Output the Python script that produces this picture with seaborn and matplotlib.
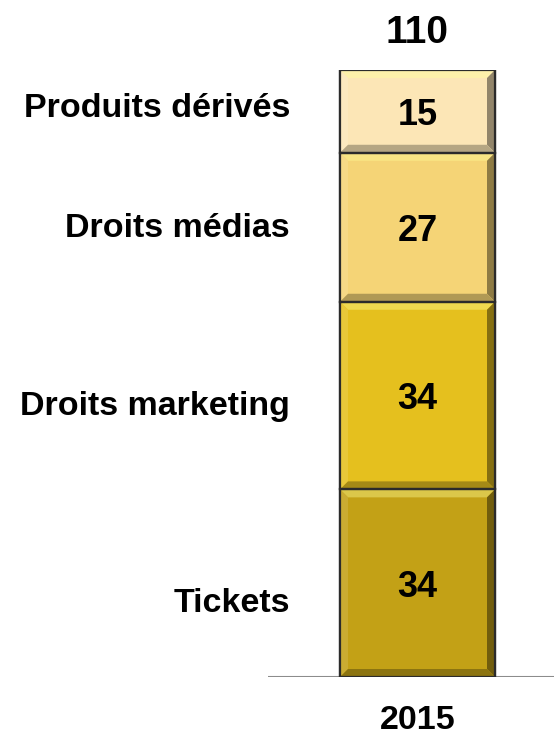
import matplotlib
matplotlib.use("Agg")
import matplotlib.pyplot as plt
import matplotlib.colors as mcolors
from matplotlib.patches import Polygon
from matplotlib.transforms import offset_copy
import seaborn as sns
import numpy as np

sns.set_theme(style="white")
plt.rcParams['font.family'] = ['Liberation Sans', 'DejaVu Sans']

year = ["2015"]
categories = ["Tickets", "Droits marketing", "Droits médias", "Produits dérivés"]
values = [34, 34, 27, 15]
total = 110
colors = ["#C3A116", "#E5C01E", "#F5D476", "#FCE6B6"]

# label vertical nudges in pixels (positive = down), style only
label_nudge = [17, 7, -2, -6]

W, H = 554, 736
fig = plt.figure(figsize=(W / 100, H / 100), dpi=100)
ax = fig.add_axes([268 / W, 59 / H, 286 / W, 607 / H])

bar_w = 0.8
bottom = 0
for cat, val, col in zip(categories, values, colors):
    sns.barplot(x=year, y=[val], bottom=bottom, color=col, width=bar_w,
                edgecolor="#2b2b2b", linewidth=1.6, saturation=1, ax=ax, zorder=2)
    bottom += val

ax.set_ylim(0, total)
px_per_x = 155 / bar_w
ax.set_xlim(-149.5 / px_per_x, (286 - 149.5) / px_per_x)
for s in ax.spines.values():
    s.set_visible(False)
ax.set_xticks([])
ax.set_yticks([])
ax.set_xlabel("")
ax.set_ylabel("")
ax.axhline(0, color="#8c8c8c", lw=1.5, zorder=1)

# bevel
bx = 8 / px_per_x
by = 8 / (607 / total)

def blend(c, t, amt):
    c = np.array(mcolors.to_rgb(c)); t = np.array(mcolors.to_rgb(t))
    return tuple(c * (1 - amt) + t * amt)

bottom = 0
for cat, val, col, nud in zip(categories, values, colors, label_nudge):
    x0, x1 = -bar_w / 2, bar_w / 2
    y0, y1 = bottom, bottom + val
    polys = [
        ([(x0, y1), (x1, y1), (x1 - bx, y1 - by), (x0 + bx, y1 - by)], blend(col, "#ffff99", 0.4)),
        ([(x0, y0), (x0, y1), (x0 + bx, y1 - by), (x0 + bx, y0 + by)], blend(col, "white", 0.12)),
        ([(x1, y0), (x1, y1), (x1 - bx, y1 - by), (x1 - bx, y0 + by)], blend(col, "black", 0.42)),
        ([(x0, y0), (x1, y0), (x1 - bx, y0 + by), (x0 + bx, y0 + by)], blend(col, "black", 0.28)),
    ]
    for pts, c in polys:
        ax.add_patch(Polygon(pts, closed=True, facecolor=c, edgecolor="none", zorder=3))
    ax.add_patch(Polygon([(x0, y0), (x1, y0), (x1, y1), (x0, y1)], closed=True,
                         facecolor="none", edgecolor="#2b2b2b", lw=1.6, zorder=4))
    ax.text(0, (y0 + y1) / 2, f"{val}", ha="center", va="center_baseline", fontsize=26,
            fontweight="bold", color="black", zorder=5)
    tr = offset_copy(ax.transData, fig=fig, x=0, y=-nud * 0.72, units="points")
    ax.text(-127.5 / px_per_x, (y0 + y1) / 2, cat, ha="right", va="center_baseline", fontsize=24.5,
            fontweight="bold", color="black", clip_on=False, transform=tr)
    bottom += val

ax.text(0, total + 7.4, f"{total}", ha="center", va="center_baseline", fontsize=28,
        fontweight="bold", color="black", clip_on=False)
ax.text(0, -7.2, year[0], ha="center", va="center_baseline", fontsize=24.5,
        fontweight="bold", color="black", clip_on=False)

fig.savefig("out.png", dpi=100)
